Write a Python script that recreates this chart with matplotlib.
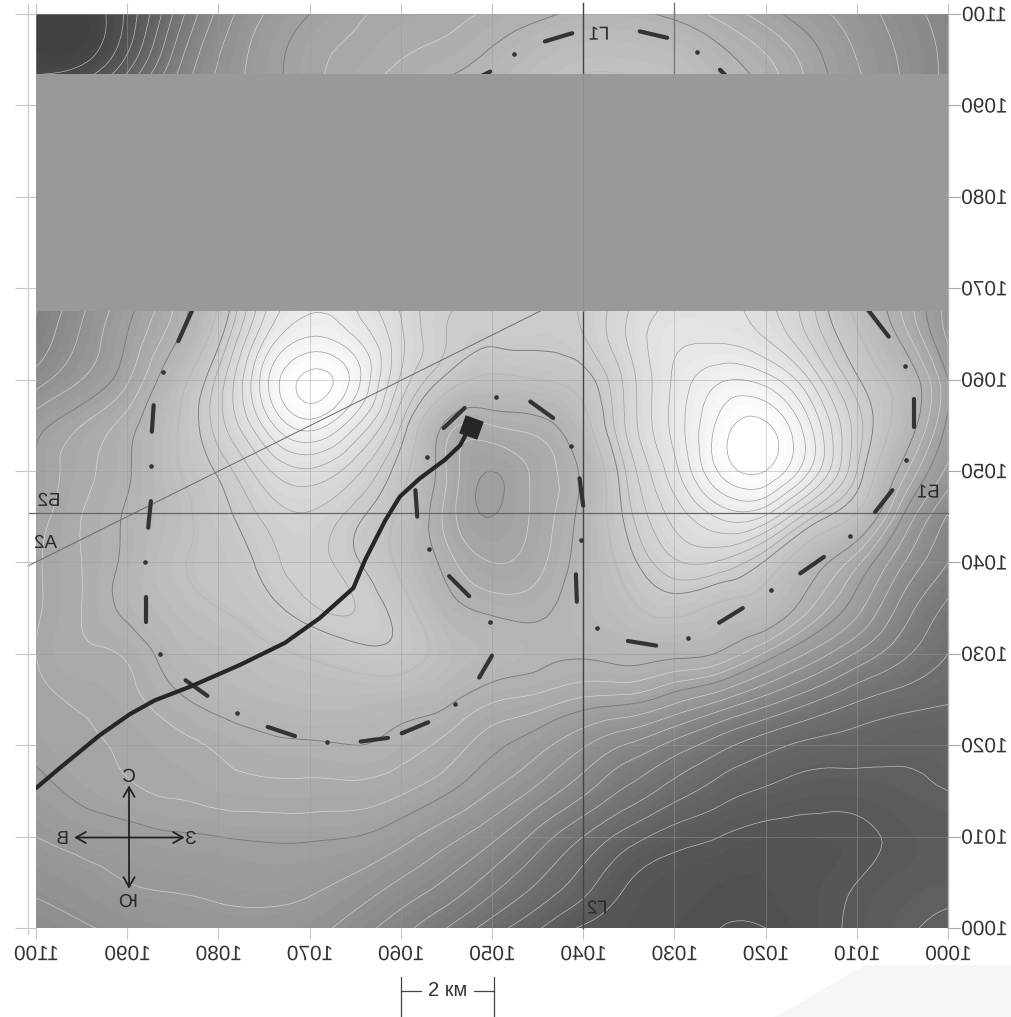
import numpy as np
import matplotlib
matplotlib.use('Agg')
from matplotlib import pyplot as plt
from matplotlib.markers import MarkerStyle
from matplotlib.patches import Polygon, Rectangle
from matplotlib.text import Text
from matplotlib.textpath import TextPath
from matplotlib.transforms import Affine2D
from matplotlib.tri import Triangulation, UniformTriRefiner

plt.rcParams['font.family'] = ['Liberation Sans', 'DejaVu Sans']

# Grid of the field, one list per y row, x runs 1100 -> 1000 in steps of 5
grid_x = [1100, 1095, 1090, 1085, 1080, 1075, 1070, 1065, 1060, 1055, 1050,
          1045, 1040, 1035, 1030, 1025, 1020, 1015, 1010, 1005, 1000]
grid_y = [1100, 1095, 1090, 1085, 1080, 1075, 1070, 1065, 1060, 1055, 1050,
          1045, 1040, 1035, 1030, 1025, 1020, 1015, 1010, 1005, 1000]
row_1100 = [66, 66, 82, 112, 138, 152, 160, 165, 168, 170, 173, 176, 180, 180, 176, 170, 163, 155, 148, 140, 132]
row_1095 = [68, 70, 90, 122, 144, 156, 164, 168, 172, 175, 180, 186, 190, 190, 188, 181, 173, 163, 152, 143, 134]
row_1090 = [85, 95, 115, 135, 150, 160, 167, 173, 178, 183, 188, 192, 195, 195, 192, 186, 178, 166, 155, 145, 135]
row_1085 = [105, 120, 135, 150, 165, 175, 180, 183, 187, 190, 195, 198, 200, 200, 196, 190, 183, 172, 160, 150, 140]
row_1080 = [115, 130, 145, 160, 175, 190, 198, 198, 198, 198, 200, 203, 205, 205, 203, 198, 192, 180, 170, 155, 145]
row_1075 = [120, 135, 150, 165, 182, 205, 220, 218, 212, 208, 206, 206, 208, 212, 216, 214, 208, 195, 182, 165, 148]
row_1070 = [125, 140, 155, 170, 190, 218, 232, 228, 216, 208, 204, 204, 206, 215, 223, 224, 218, 205, 188, 170, 150]
row_1065 = [130, 145, 160, 175, 197, 227, 240, 234, 218, 205, 202, 202, 205, 218, 227, 227, 222, 209, 193, 175, 150]
row_1060 = [140, 152, 165, 185, 207, 238, 255, 244, 216, 198, 190, 192, 197, 214, 230, 240, 238, 222, 201, 186, 160]
row_1055 = [157, 166, 175, 190, 208, 230, 244, 230, 205, 176, 172, 175, 188, 213, 231, 249, 254, 235, 208, 186, 158]
row_1050 = [160, 170, 177, 190, 201, 215, 222, 213, 196, 172, 160, 168, 180, 207, 227, 248, 253, 234, 205, 175, 150]
row_1045 = [163, 172, 179, 188, 197, 206, 210, 202, 190, 170, 160, 168, 181, 203, 219, 230, 228, 206, 190, 160, 135]
row_1040 = [165, 172, 180, 190, 195, 202, 207, 201, 190, 175, 166, 170, 182, 197, 210, 210, 199, 183, 168, 145, 128]
row_1035 = [165, 172, 180, 187, 192, 197, 204, 205, 196, 182, 176, 176, 183, 190, 195, 190, 186, 172, 155, 133, 118]
row_1030 = [166, 171, 173, 182, 186, 190, 193, 197, 197, 188, 183, 180, 179, 181, 180, 177, 165, 150, 135, 122, 112]
row_1025 = [164, 167, 170, 176, 181, 184, 186, 186, 184, 180, 173, 170, 165, 163, 155, 145, 133, 122, 113, 108, 105]
row_1020 = [162, 165, 167, 170, 173, 176, 177, 178, 175, 170, 162, 155, 145, 135, 125, 115, 107, 102, 100, 98, 98]
row_1015 = [157, 162, 165, 167, 169, 170, 170, 170, 167, 161, 152, 142, 130, 118, 108, 100, 95, 92, 92, 94, 96]
row_1010 = [152, 155, 157, 159, 160, 161, 161, 160, 155, 147, 138, 125, 112, 100, 92, 88, 85, 85, 86, 90, 92]
row_1005 = [146, 149, 152, 153, 154, 155, 154, 150, 143, 135, 124, 112, 100, 88, 84, 82, 82, 84, 88, 92, 94]
row_1000 = [140, 143, 146, 148, 149, 149, 147, 140, 131, 120, 108, 97, 87, 85, 82, 80, 80, 84, 90, 95, 97]

# Well track
track_x = [1100, 1097.4, 1093.0, 1089.7, 1087.0, 1083.1, 1077.6, 1072.7, 1068.9, 1065.2,
           1063.9, 1061.7, 1060.1, 1057.9, 1055.2, 1053.5, 1052.6]
track_y = [1015.3, 1017.5, 1021.1, 1023.4, 1024.9, 1026.4, 1028.8, 1031.2, 1033.9, 1037.2,
           1040.3, 1044.6, 1047.2, 1049.2, 1051.2, 1052.8, 1054.5]

# Dashes of the dash-dot outline: x1, y1, x2, y2
dash_x1 = [1044.2, 1033.8, 1050.2, 1025.0, 1082.6, 1087.1, 1087.4, 1087.9, 1083.6, 1074.6, 1064.4, 1059.9, 1051.4,
           1054.7, 1058.4, 1055.3, 1045.8, 1040.4, 1040.8, 1035.1, 1025.1, 1016.2, 1008.0, 1003.7, 1008.9]
dash_y1 = [1097.0, 1098.1, 1093.7, 1093.9, 1068.2, 1057.2, 1046.7, 1036.2, 1027.1, 1022.0, 1020.4, 1021.3, 1027.4,
           1038.5, 1047.9, 1054.7, 1057.6, 1049.2, 1038.7, 1031.4, 1033.4, 1038.8, 1045.5, 1057.9, 1067.8]
dash_x2 = [1041.2, 1030.8, 1052.4, 1023.9, 1084.4, 1087.3, 1087.7, 1087.9, 1081.2, 1071.6, 1061.4, 1057.0, 1050.0,
           1052.5, 1058.2, 1053.0, 1043.3, 1040.0, 1040.7, 1032.0, 1022.5, 1013.6, 1006.1, 1003.7, 1006.5]
dash_y2 = [1097.9, 1097.4, 1092.6, 1092.8, 1064.2, 1054.3, 1043.8, 1033.5, 1025.4, 1021.0, 1020.8, 1022.5, 1029.8,
           1036.3, 1045.0, 1056.9, 1055.8, 1046.2, 1035.7, 1030.9, 1035.0, 1040.6, 1047.9, 1054.8, 1064.7]
dot_x = [1047.6, 1027.5, 1086.1, 1087.4, 1088.0, 1086.4, 1078.0, 1068.1, 1054.1, 1050.2, 1056.9,
         1057.1, 1049.6, 1041.3, 1040.2, 1038.5, 1028.5, 1019.4, 1010.7, 1004.6, 1004.7]
dot_y = [1095.6, 1095.8, 1060.8, 1050.5, 1040.0, 1030.0, 1023.5, 1020.4, 1024.5, 1033.5, 1041.5,
         1051.5, 1058.1, 1052.7, 1042.5, 1032.8, 1031.7, 1037.0, 1042.9, 1051.2, 1061.5]

ticks = [1000, 1010, 1020, 1030, 1040, 1050, 1060, 1070, 1080, 1090, 1100]
tick_labels = ['1000', '1010', '1020', '1030', '1040', '1050', '1060', '1070', '1080', '1090', '1100']


class MirrorText(Text):
    # the reference is printed mirrored, so the string is drawn flipped left-right
    def draw(self, renderer):
        if not self.get_visible():
            return
        tp = TextPath((0, 0), self.get_text(), prop=self.get_fontproperties())
        box = tp.get_extents()
        k = self.figure.dpi / 72
        px, py = self.get_transform().transform(self.get_position())
        tr = Affine2D().translate(-(box.x0 + box.x1) / 2, -(box.y0 + box.y1) / 2).scale(-k, k).translate(px, py)
        gc = renderer.new_gc()
        gc.set_linewidth(0)
        renderer.draw_path(gc, tp, tr, matplotlib.colors.to_rgb(self.get_color()))
        gc.restore()


W, H = 1012, 1017
fig = plt.figure(figsize=(W / 100, H / 100), dpi=100)
ax = fig.add_axes([36 / W, 1 - 928 / H, 912 / W, 914 / H])

X, Y = np.meshgrid(grid_x, grid_y)
Z = np.array([row_1100, row_1095, row_1090, row_1085, row_1080, row_1075, row_1070, row_1065, row_1060, row_1055,
              row_1050, row_1045, row_1040, row_1035, row_1030, row_1025, row_1020, row_1015, row_1010, row_1005,
              row_1000], dtype=float)
tri = Triangulation(X.ravel(), Y.ravel())
tri_fine, z_fine = UniformTriRefiner(tri).refine_field(Z.ravel(), subdiv=3)

ax.tricontourf(tri_fine, z_fine, levels=np.arange(40, 262, 3), cmap='gray', vmin=0, vmax=255, extend='both', zorder=1)
ax.tricontour(tri_fine, z_fine, levels=np.arange(205, 256, 6), colors='#9c9c9c', linewidths=0.5, zorder=2)
ax.tricontour(tri_fine, z_fine, levels=[184, 192], colors='#b4b4b4', linewidths=0.45, zorder=2)
ax.tricontour(tri_fine, z_fine, levels=[166, 172], colors='#d8d8d8', linewidths=0.45, zorder=2)
ax.tricontour(tri_fine, z_fine, levels=np.arange(64, 160, 8), colors='#e6e6e6', linewidths=0.5, alpha=0.7, zorder=2)
ax.tricontour(tri_fine, z_fine, levels=[160, 178, 200], colors='#7a7a7a', linewidths=0.65, zorder=2)

ax.set_xlim(1100, 1000)
ax.set_ylim(1000, 1100)
ax.set_xticks(ticks)
ax.set_yticks(ticks)
ax.set_xticklabels([])
ax.set_yticklabels([])
ax.grid(True, color='#9a9a9a', linewidth=0.6, alpha=0.5, zorder=3)
ax.set_axisbelow(False)
ax.tick_params(axis='x', length=8, width=0.8, color='#c4c4c4', top=True, bottom=True)
ax.tick_params(axis='y', length=15, width=0.8, color='#c4c4c4', left=True, right=False)
for name in ['top', 'left', 'bottom']:
    ax.spines[name].set_visible(False)
ax.spines['right'].set_color('#b0b0b0')
ax.spines['right'].set_linewidth(1.0)

# right ticks are shorter than the left ones
for t in ticks:
    ax.plot([1000, 998.7], [t, t], color='#aaaaaa', lw=0.8, clip_on=False, zorder=4)

# section lines
ax.plot([1100.9, 1044.7], [1039.6, 1067.5], color='#6a6a6a', lw=0.7, clip_on=False, zorder=4)
ax.plot([1100.9, 1000], [1045.4, 1045.4], color='#666666', lw=0.9, clip_on=False, zorder=4)
ax.plot([1040, 1040], [1000, 1101.2], color='#444444', lw=1.0, clip_on=False, zorder=4)
ax.plot([1030, 1030], [1093, 1101.2], color='#777777', lw=1.0, clip_on=False, zorder=4)

# flat grey band over the middle
ax.add_patch(Rectangle((1000, 1067.5), 100, 25.9, facecolor='#999999', edgecolor='none', zorder=5))
ax.plot([1040, 1040], [1067.5, 1093.4], color='#8e8e8e', lw=0.8, zorder=6)

for x1, y1, x2, y2 in zip(dash_x1, dash_y1, dash_x2, dash_y2):
    ax.plot([x1, x2], [y1, y2], color='#333333', lw=3.0, solid_capstyle='round', zorder=4.5)
ax.scatter(dot_x, dot_y, s=11, color='#333333', linewidths=0, zorder=4.5)

ax.plot(track_x, track_y, color='#262626', lw=3.0, solid_capstyle='round', zorder=7)
ax.scatter([1052.3], [1054.8], s=190, color='#262626', linewidths=0, zorder=7,
           marker=MarkerStyle('s', transform=Affine2D().rotate_deg(-20)))

# compass
ax.annotate('', xy=(1089.8, 1015.6), xytext=(1089.8, 1004.3),
            arrowprops=dict(arrowstyle='<->,head_length=0.7,head_width=0.4', color='#222222', lw=1.3, shrinkA=0, shrinkB=0), zorder=7)
ax.annotate('', xy=(1095.8, 1009.9), xytext=(1083.7, 1009.9),
            arrowprops=dict(arrowstyle='<->,head_length=0.7,head_width=0.4', color='#222222', lw=1.3, shrinkA=0, shrinkB=0), zorder=7)

mirror_labels = [('С', 1089.8, 1016.7), ('Ю', 1089.9, 1003.0), ('В', 1097.1, 1009.9), ('З', 1083.0, 1009.9),
                 ('Г1', 1038.3, 1097.9), ('Г2', 1038.5, 1002.3), ('Б2', 1098.6, 1046.9), ('А2', 1098.9, 1042.3),
                 ('Б1', 1002.2, 1047.8)]
for s, x, y in mirror_labels:
    ax.add_artist(MirrorText(x, y, s, color='#2a2a2a', fontsize=13.5, ha='center', va='center',
                             transform=ax.transData, zorder=8))

for t, s in zip(ticks, tick_labels):
    ax.add_artist(MirrorText(t, -25 / 914, s, color='#333333', fontsize=15, ha='center', va='center',
                             transform=ax.get_xaxis_transform(), zorder=8))
    ax.add_artist(MirrorText(1 + 36 / 912, t, s, color='#333333', fontsize=15, ha='center', va='center',
                             transform=ax.get_yaxis_transform(), zorder=8))

# left frame line, scale bar and page decor in figure pixels
pix = Affine2D().scale(1 / W, -1 / H).translate(0, 1) + fig.transFigure
fig.add_artist(plt.Line2D([28, 28], [4, 934], color='#cfcfcf', lw=1.0, transform=pix))
fig.add_artist(Polygon([(775, 1017), (865, 965), (1012, 965), (1012, 1017)], closed=True, facecolor='#f5f6f7',
                       edgecolor='none', transform=pix, zorder=-1))
fig.add_artist(plt.Line2D([401, 401], [977, 1016], color='#444444', lw=0.9, transform=pix))
fig.add_artist(plt.Line2D([494, 494], [977, 1016], color='#444444', lw=0.9, transform=pix))
fig.add_artist(plt.Line2D([401, 421], [991, 991], color='#444444', lw=0.9, transform=pix))
fig.add_artist(plt.Line2D([474, 494], [991, 991], color='#444444', lw=0.9, transform=pix))
fig.text(447.5 / W, 1 - 991 / H, '2 км', fontsize=14.5, color='#333333', ha='center', va='center')

fig.savefig('out.png', dpi=100)
